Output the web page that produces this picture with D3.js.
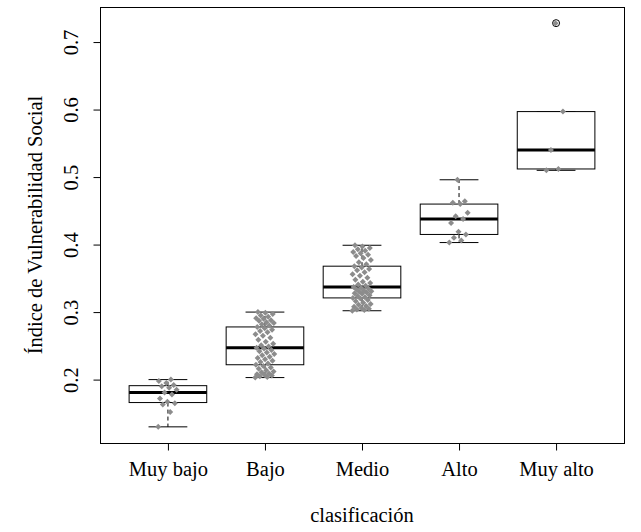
<!DOCTYPE html>
<html>
<head>
<meta charset="utf-8">
<script src="https://cdn.jsdelivr.net/npm/d3@7"></script>
<style>
  body { margin: 0; background: #fff; }
  svg { display: block; }
  text { font-family: "Liberation Serif", "Times New Roman", serif; fill: #000; }
</style>
</head>
<body>
<svg width="641" height="532"></svg>
<script>
// categories on the x axis
var categories = ["Muy bajo", "Bajo", "Medio", "Alto", "Muy alto"];

// index values per class
var muyBajo = [0.130, 0.152, 0.163, 0.165, 0.167, 0.172, 0.178, 0.181, 0.185, 0.188, 0.190, 0.192, 0.195, 0.198, 0.200];
var bajo = [0.203, 0.204, 0.205, 0.206, 0.207, 0.208, 0.209, 0.211, 0.212, 0.214, 0.216, 0.218, 0.220,
            0.222, 0.224, 0.226, 0.228, 0.230, 0.232, 0.234, 0.236, 0.238, 0.240, 0.242, 0.244, 0.246,
            0.247, 0.249, 0.251, 0.253, 0.256, 0.259, 0.262, 0.265, 0.267, 0.270, 0.272, 0.274, 0.276,
            0.278, 0.280, 0.282, 0.284, 0.285, 0.287, 0.288, 0.290, 0.291, 0.293, 0.295, 0.297, 0.299, 0.300];
var medio = [0.302, 0.303, 0.304, 0.305, 0.306, 0.308, 0.309, 0.311, 0.312, 0.314, 0.316, 0.318, 0.320,
             0.321, 0.322, 0.324, 0.325, 0.327, 0.328, 0.329, 0.330, 0.331, 0.332, 0.334, 0.335, 0.336,
             0.337, 0.339, 0.341, 0.343, 0.345, 0.348, 0.351, 0.354, 0.356, 0.359, 0.362, 0.364, 0.366,
             0.368, 0.371, 0.374, 0.377, 0.380, 0.383, 0.385, 0.387, 0.389, 0.391, 0.393, 0.395, 0.397, 0.399];
var alto = [0.403, 0.406, 0.410, 0.415, 0.419, 0.432, 0.438, 0.442, 0.447, 0.460, 0.462, 0.464, 0.496];
var muyAlto = [0.510, 0.512, 0.540, 0.597, 0.728];

var groups = [muyBajo, bajo, medio, alto, muyAlto];
var yTicks = [0.2, 0.3, 0.4, 0.5, 0.6, 0.7];

var svg = d3.select("svg");
var plot = {left: 100, right: 624, top: 7, bottom: 443};
var fontSize = "20.5px";

var x = d3.scaleLinear().domain([0.3, 5.7]).range([plot.left, plot.right]);
var ext = d3.extent(d3.merge(groups));
var pad = (ext[1] - ext[0]) * 0.04;
var y = d3.scaleLinear().domain([ext[0] - pad, ext[1] + pad]).range([plot.bottom, plot.top]);

// Tukey five number summary, like R fivenum
function fivenum(v) {
    var s = v.slice().sort(d3.ascending), n = s.length;
    var n4 = Math.floor((n + 3) / 2) / 2;
    var d = [1, n4, (n + 1) / 2, n + 1 - n4, n];
    return d.map(function(k) {
        return 0.5 * (s[Math.floor(k) - 1] + s[Math.ceil(k) - 1]);
    });
}

function boxStats(v) {
    var f = fivenum(v);
    var iqr = f[3] - f[1];
    var lo = f[1] - 1.5 * iqr, hi = f[3] + 1.5 * iqr;
    var inside = v.filter(function(d) { return d >= lo && d <= hi; });
    return {
        q1: f[1], med: f[2], q3: f[3],
        lo: d3.min(inside), hi: d3.max(inside),
        out: v.filter(function(d) { return d < lo || d > hi; })
    };
}

var half = x(0.4) - x(0);
var g = svg.append("g");

groups.forEach(function(vals, i) {
    var st = boxStats(vals);
    var cx = x(i + 1);

    // whiskers
    g.append("line").attr("x1", cx).attr("x2", cx).attr("y1", y(st.q3)).attr("y2", y(st.hi))
        .attr("stroke", "#000").attr("stroke-dasharray", "4,3");
    g.append("line").attr("x1", cx).attr("x2", cx).attr("y1", y(st.q1)).attr("y2", y(st.lo))
        .attr("stroke", "#000").attr("stroke-dasharray", "4,3");
    [st.hi, st.lo].forEach(function(v) {
        g.append("line").attr("x1", cx - half / 2).attr("x2", cx + half / 2)
            .attr("y1", y(v)).attr("y2", y(v)).attr("stroke", "#000");
    });

    g.append("rect")
        .attr("x", cx - half).attr("width", 2 * half)
        .attr("y", y(st.q3)).attr("height", y(st.q1) - y(st.q3))
        .attr("fill", "#fff").attr("stroke", "#000");
    g.append("line").attr("x1", cx - half).attr("x2", cx + half)
        .attr("y1", y(st.med)).attr("y2", y(st.med))
        .attr("stroke", "#000").attr("stroke-width", 3);

    st.out.forEach(function(v) {
        g.append("circle").attr("cx", cx).attr("cy", y(v)).attr("r", 3.5)
            .attr("fill", "none").attr("stroke", "#000");
    });
});

// jittered points drawn on top of the boxes
var diamond = d3.symbol().type(d3.symbolSquare).size(18);
groups.forEach(function(vals, i) {
    g.selectAll(null).data(vals).enter().append("path")
        .attr("d", diamond)
        .attr("transform", function(d, j) {
            var jit = (((j * 0.618034) % 1) - 0.5) * 0.2;
            return "translate(" + x(i + 1 + jit) + "," + y(d) + ") rotate(45)";
        })
        .attr("fill", "#8c8c8c");
});

// frame
svg.append("rect")
    .attr("x", plot.left + 0.5).attr("y", plot.top + 0.5)
    .attr("width", plot.right - plot.left).attr("height", plot.bottom - plot.top)
    .attr("fill", "none").attr("stroke", "#000");

// axes
var xAxis = svg.append("g")
    .attr("transform", "translate(0," + (plot.bottom + 0.5) + ")")
    .call(d3.axisBottom(x).tickValues([1, 2, 3, 4, 5]).tickSize(7)
        .tickFormat(function(d) { return categories[d - 1]; }));
xAxis.select(".domain").remove();
xAxis.selectAll("text").attr("dy", null).attr("y", 32)
    .style("font-size", fontSize).style("font-family", '"Liberation Serif", serif');

var yAxis = svg.append("g")
    .attr("transform", "translate(" + (plot.left + 0.5) + ",0)")
    .call(d3.axisLeft(y).tickValues(yTicks).tickSize(7).tickFormat(d3.format(".1f")));
yAxis.select(".domain").remove();
yAxis.selectAll("text")
    .attr("x", null).attr("dy", null)
    .attr("text-anchor", "middle")
    .attr("transform", "translate(-23,0) rotate(-90)")
    .style("font-size", fontSize).style("font-family", '"Liberation Serif", serif');

svg.append("text")
    .attr("x", (plot.left + plot.right) / 2).attr("y", 522)
    .attr("text-anchor", "middle").style("font-size", fontSize)
    .text("clasificación");

svg.append("text")
    .attr("transform", "translate(42," + (plot.top + plot.bottom) / 2 + ") rotate(-90)")
    .attr("text-anchor", "middle").style("font-size", fontSize)
    .text("Índice de Vulnerabilidad Social");
</script>
</body>
</html>
